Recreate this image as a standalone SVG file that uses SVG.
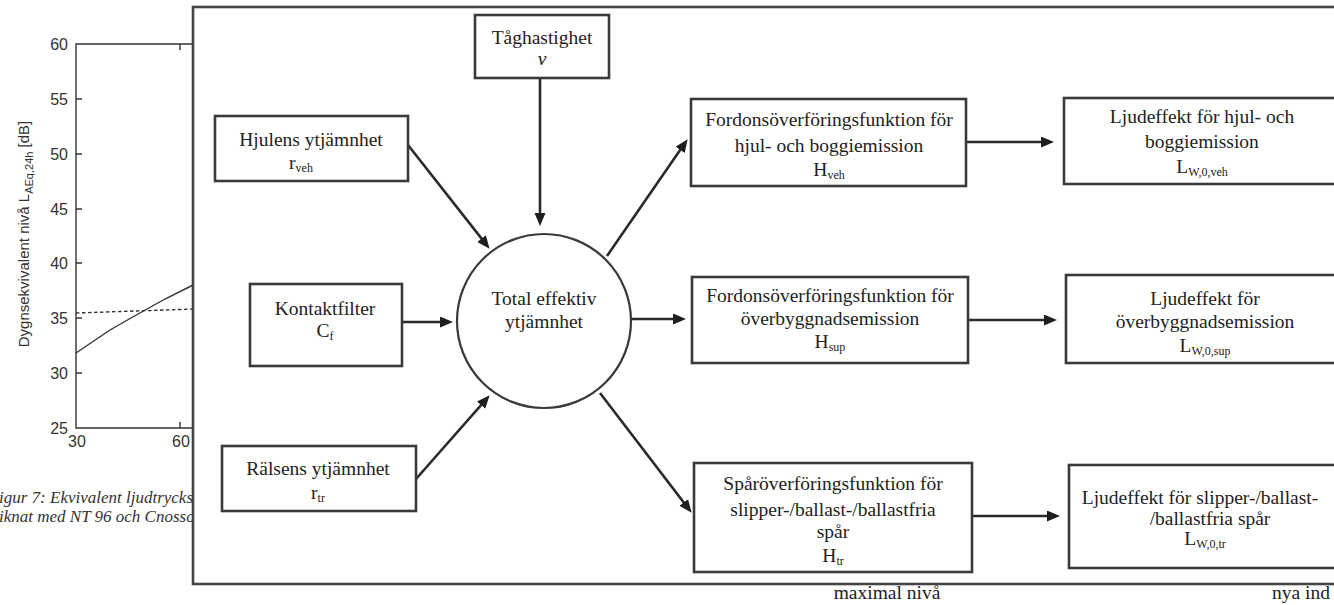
<svg xmlns="http://www.w3.org/2000/svg" width="1334" height="605" viewBox="0 0 1334 605">
<style>
.ax{fill:none;stroke:#333;stroke-width:1.4}
.tk{fill:#333;font-family:"Liberation Sans",Arial,sans-serif;font-size:16px}
.cap{fill:#333;font-family:"Liberation Serif","Times New Roman",serif;font-size:17px;font-style:italic}
.box{fill:#fff;stroke:#3a3a3a;stroke-width:2.6}
.t{fill:#222;font-family:"Liberation Serif","Times New Roman",serif;font-size:19.5px;text-anchor:middle}
.s{font-size:12px}
.c{fill:none;stroke:#2a2a2a;stroke-width:2.6}
</style>
<defs>
<marker id="ah" markerUnits="userSpaceOnUse" markerWidth="14" markerHeight="12" refX="9" refY="5.5" orient="auto">
<path d="M0,0 L13,5.5 L0,11 z" fill="#1e1e1e"/>
</marker>
</defs>
<rect width="1334" height="605" fill="#fff"/>

<g id="chart">
<path class="ax" d="M193,44 H76 V428 H193"/>
<path class="ax" d="M76,99 h6 M76,154 h6 M76,209 h6 M76,263 h6 M76,318 h6 M76,373 h6 M180,44 v6 M180,428 v-6"/>
<g class="tk" text-anchor="end">
<text x="68" y="50">60</text>
<text x="68" y="105">55</text>
<text x="68" y="160">50</text>
<text x="68" y="215">45</text>
<text x="68" y="269">40</text>
<text x="68" y="324">35</text>
<text x="68" y="379">30</text>
<text x="68" y="434">25</text>
</g>
<g class="tk" text-anchor="middle">
<text x="77" y="447">30</text>
<text x="181" y="447">60</text>
</g>
<text class="tk" style="font-size:15px" text-anchor="middle" transform="translate(29,234) rotate(-90)">Dygnsekvivalent nivå L<tspan style="font-size:11px" dy="4">AEq,24h</tspan><tspan dy="-4"> [dB]</tspan></text>
<path d="M76,353 L110,330 L138,314 L165,299 L195,284" fill="none" stroke="#333" stroke-width="1.4"/>
<path d="M76,313 L195,309" fill="none" stroke="#333" stroke-width="1.4" stroke-dasharray="3.5,2.5"/>
<text class="cap" x="-1" y="503">igur 7: Ekvivalent ljudtrycks</text>
<text class="cap" x="-1" y="522">iknat med NT 96 och Cnosso</text>
</g>

<g id="frame">
<rect x="193" y="7" width="1200" height="577" fill="#fff" stroke="#444" stroke-width="2.6"/>
</g>

<g id="connectors">
<line class="c" x1="540" y1="78" x2="540" y2="222" marker-end="url(#ah)"/>
<line class="c" x1="408" y1="145" x2="487.1" y2="245.6" marker-end="url(#ah)"/>
<line class="c" x1="402" y1="322" x2="449" y2="322" marker-end="url(#ah)"/>
<line class="c" x1="416" y1="479" x2="487" y2="398.3" marker-end="url(#ah)"/>
<line class="c" x1="607" y1="256" x2="685.3" y2="142.5" marker-end="url(#ah)"/>
<line class="c" x1="632" y1="319" x2="682" y2="319" marker-end="url(#ah)"/>
<line class="c" x1="600" y1="393" x2="689.2" y2="509.6" marker-end="url(#ah)"/>
<line class="c" x1="966" y1="142" x2="1050" y2="142" marker-end="url(#ah)"/>
<line class="c" x1="968" y1="320" x2="1053" y2="320" marker-end="url(#ah)"/>
<line class="c" x1="972" y1="516" x2="1056" y2="516" marker-end="url(#ah)"/>
</g>

<g id="n-taghastighet">
<rect class="box" x="475" y="15" width="134" height="63"/>
<text class="t" x="542" y="44">Tåghastighet</text>
<text class="t" x="542" y="65" font-style="italic">v</text>
</g>

<g id="n-hjulens">
<rect class="box" x="215" y="116" width="193" height="65"/>
<text class="t" x="311" y="146">Hjulens ytjämnhet</text>
<text class="t" x="301" y="169">r<tspan class="s" dy="3">veh</tspan></text>
</g>

<g id="n-kontaktfilter">
<rect class="box" x="250" y="284" width="152" height="82"/>
<text class="t" x="325" y="315">Kontaktfilter</text>
<text class="t" x="325" y="337">C<tspan class="s" dy="3">f</tspan></text>
</g>

<g id="n-ralsens">
<rect class="box" x="222" y="446" width="194" height="65"/>
<text class="t" x="318" y="475">Rälsens ytjämnhet</text>
<text class="t" x="318" y="499">r<tspan class="s" dy="3">tr</tspan></text>
</g>

<g id="n-total">
<circle cx="544" cy="321" r="87" fill="#fff" stroke="#3a3a3a" stroke-width="2.2"/>
<text class="t" x="544" y="305">Total effektiv</text>
<text class="t" x="544" y="328">ytjämnhet</text>
</g>

<g id="n-fordon-hjul">
<rect class="box" x="691" y="99" width="275" height="87"/>
<text class="t" x="829" y="126">Fordonsöverföringsfunktion för</text>
<text class="t" x="829" y="152">hjul- och boggiemission</text>
<text class="t" x="829" y="176">H<tspan class="s" dy="3">veh</tspan></text>
</g>

<g id="n-fordon-overbyggnad">
<rect class="box" x="692" y="277" width="276" height="86"/>
<text class="t" x="830" y="302">Fordonsöverföringsfunktion för</text>
<text class="t" x="830" y="325">överbyggnadsemission</text>
<text class="t" x="830" y="348">H<tspan class="s" dy="3">sup</tspan></text>
</g>

<g id="n-spar">
<rect class="box" x="694" y="463" width="278" height="109"/>
<text class="t" x="833" y="490">Spåröverföringsfunktion för</text>
<text class="t" x="833" y="516">slipper-/ballast-/ballastfria</text>
<text class="t" x="833" y="538">spår</text>
<text class="t" x="833" y="562">H<tspan class="s" dy="3">tr</tspan></text>
</g>

<g id="n-ljud-hjul">
<rect class="box" x="1064" y="98" width="290" height="86"/>
<text class="t" x="1202" y="123">Ljudeffekt för hjul- och</text>
<text class="t" x="1202" y="148">boggiemission</text>
<text class="t" x="1202" y="173">L<tspan class="s" dy="3">W,0,veh</tspan></text>
</g>

<g id="n-ljud-overbyggnad">
<rect class="box" x="1066" y="275" width="290" height="88"/>
<text class="t" x="1205" y="305">Ljudeffekt för</text>
<text class="t" x="1205" y="328">överbyggnadsemission</text>
<text class="t" x="1205" y="352">L<tspan class="s" dy="3">W,0,sup</tspan></text>
</g>

<g id="n-ljud-spar">
<rect class="box" x="1069" y="465" width="290" height="103"/>
<text class="t" x="1200" y="504">Ljudeffekt för slipper-/ballast-</text>
<text class="t" x="1210" y="525">/ballastfria spår</text>
<text class="t" x="1205" y="545">L<tspan class="s" dy="3">W,0,tr</tspan></text>
</g>

<g id="below">
<text class="t" x="887" y="599">maximal nivå</text>
<text class="t" style="text-anchor:start" x="1272" y="599">nya ind</text>
</g>
</svg>
